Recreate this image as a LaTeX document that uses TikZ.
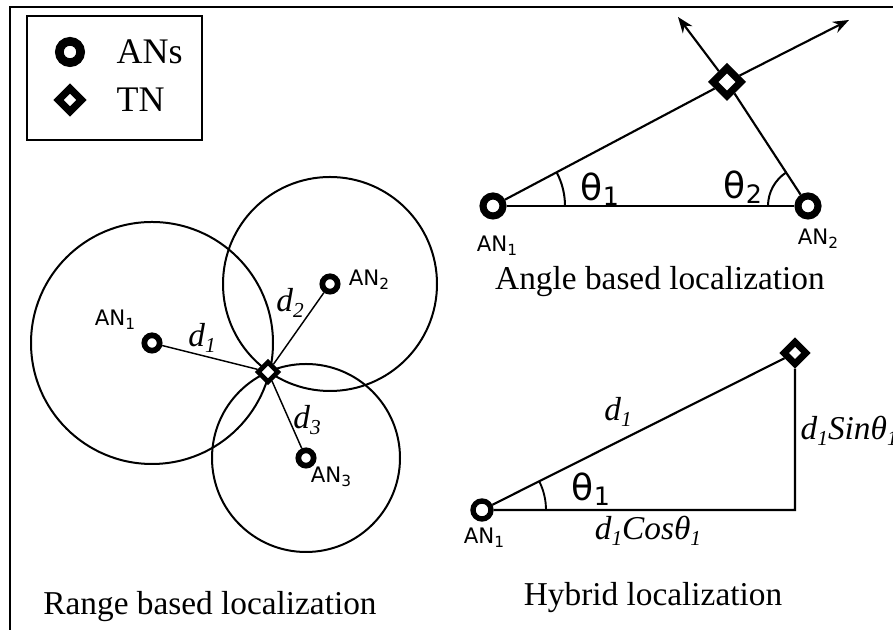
\documentclass[tikz,border=0pt]{standalone}
\usepackage{fontspec}
\setmainfont{Liberation Serif}
\newfontfamily\dvsans{DejaVu Sans}
\usetikzlibrary{shapes.geometric,arrows.meta,angles}
\newcommand\anlab[1]{{\dvsans\fontsize{16}{19}\selectfont AN\raisebox{-0.35ex}{\fontsize{11.5}{12}\selectfont #1}}}
\newcommand\thlab[1]{{\dvsans\fontsize{27}{31}\selectfont θ\raisebox{-0.25ex}{\fontsize{19}{19}\selectfont #1}}}
\newcommand\dsub[1]{\textit{d}\raisebox{-0.35ex}{\fontsize{16}{16}\selectfont\itshape #1}}
\newcommand\thsub[1]{\textit{θ}\raisebox{-0.35ex}{\fontsize{16}{16}\selectfont\itshape #1}}
\begin{document}
\begin{tikzpicture}[x=0.75pt,y=0.75pt,
  an/.style={circle,draw,fill=white,inner sep=0pt},
  tn/.style={diamond,draw,fill=white,inner sep=0pt},
  title/.style={font=\fontsize{25}{30}\selectfont},
  legtext/.style={anchor=west,font=\fontsize{27}{32}\selectfont},
  ital/.style={font=\fontsize{25}{29}\selectfont\itshape},
  wire/.style={line width=1.6pt},
  thinwire/.style={line width=1.1pt},
  arrowtip/.style={-{Stealth[length=12pt,width=9pt]}}]
\useasboundingbox (0,0) rectangle (893,630);
\clip (0,0) rectangle (893,630);
% outer frame
\draw[line width=1.2pt] (10,-10) -- (10,623) -- (910,623);
% legend
\draw[line width=1.2pt] (27,614) rectangle (202,490);
\node[an,minimum size=16pt,line width=6.5pt] (legO) at (70,578) {};
\node[tn,minimum size=19.5pt,line width=5.5pt] (legD) at (70,530) {};
\node[legtext] (legA) at (112,578) {ANs};
\node[legtext] (legT) at (112,530) {TN};

% ---------- Range based ----------
\coordinate (c1) at (152,287);
\coordinate (c2) at (330,346);
\coordinate (c3) at (306,172);
\draw[line width=1.5pt] (c1) circle[radius=90.75pt];
\draw[line width=1.5pt] (c2) circle[radius=80.25pt];
\draw[line width=1.5pt] (c3) circle[radius=70.5pt];
\node[an,minimum size=11.5pt,line width=4.3pt] (AN1r) at (c1) {};
\node[an,minimum size=11.5pt,line width=4.3pt] (AN2r) at (c2) {};
\node[an,minimum size=11.5pt,line width=4.3pt] (AN3r) at (c3) {};
\node[tn,minimum size=16pt,line width=3.6pt] (TNr) at (268,258) {};
\draw[thinwire] (AN1r) -- (TNr);
\draw[thinwire] (AN2r) -- (TNr);
\draw[thinwire] (AN3r) -- (TNr);
\node (l1r) at (115,310) {\anlab{1}};
\node (l2r) at (369,350) {\anlab{2}};
\node (l3r) at (331,153) {\anlab{3}};
\node[ital] (d1r) at (202,292) {\dsub{1}};
\node[ital] (d2r) at (290,327) {\dsub{2}};
\node[ital] (d3r) at (307,210) {\dsub{3}};
\node[title] (tr) at (210,23) {Range based localization};

% ---------- Angle based ----------
\node[an,minimum size=15pt,line width=5.3pt] (AN1a) at (493,424) {};
\node[an,minimum size=15pt,line width=5.3pt] (AN2a) at (808,424) {};
\node[tn,minimum size=23pt,line width=5.5pt] (TNa) at (727,548) {};
\coordinate (tip1) at (849,610);
\coordinate (tip2) at (678,613);
\draw[wire] (AN1a) -- (AN2a);
\draw[wire] (AN1a) -- (TNa);
\draw[wire,arrowtip] (TNa) -- (tip1);
\draw[wire] (AN2a) -- (TNa);
\draw[wire,arrowtip] (TNa) -- (tip2);
\pic[draw,line width=1.5pt,angle radius=54pt] {angle=AN2a--AN1a--TNa};
\pic[draw,line width=1.5pt,angle radius=30pt] {angle=TNa--AN2a--AN1a};
\node (l1a) at (497,384) {\anlab{1}};
\node (l2a) at (818,391) {\anlab{2}};
\node (th1a) at (600,441) {\thlab{1}};
\node (th2a) at (743,443) {\thlab{2}};
\node[title] (ta) at (660,348) {Angle based localization};

% ---------- Hybrid ----------
\node[an,minimum size=13.5pt,line width=4pt] (AN1h) at (482,120) {};
\coordinate (Ch) at (795,120);
\node[tn,minimum size=18.5pt,line width=5pt] (TNh) at (795,277) {};
\draw[wire] (AN1h) -- (Ch) -- (TNh) -- (AN1h);
\pic[draw,line width=1.4pt,angle radius=48pt] {angle=Ch--AN1h--TNh};
\node (l1h) at (484,92) {\anlab{1}};
\node (th1h) at (591,141) {\thlab{1}};
\node[ital] (d1h) at (618,218) {\dsub{1}};
\node[ital,anchor=west] (sinh) at (796,199) {\dsub{1}Sin\thsub{1}};
\node[ital] (cosh) at (648,99) {\dsub{1}Cos\thsub{1}};
\node[title] (th) at (653,32) {Hybrid localization};
\end{tikzpicture}
\end{document}
